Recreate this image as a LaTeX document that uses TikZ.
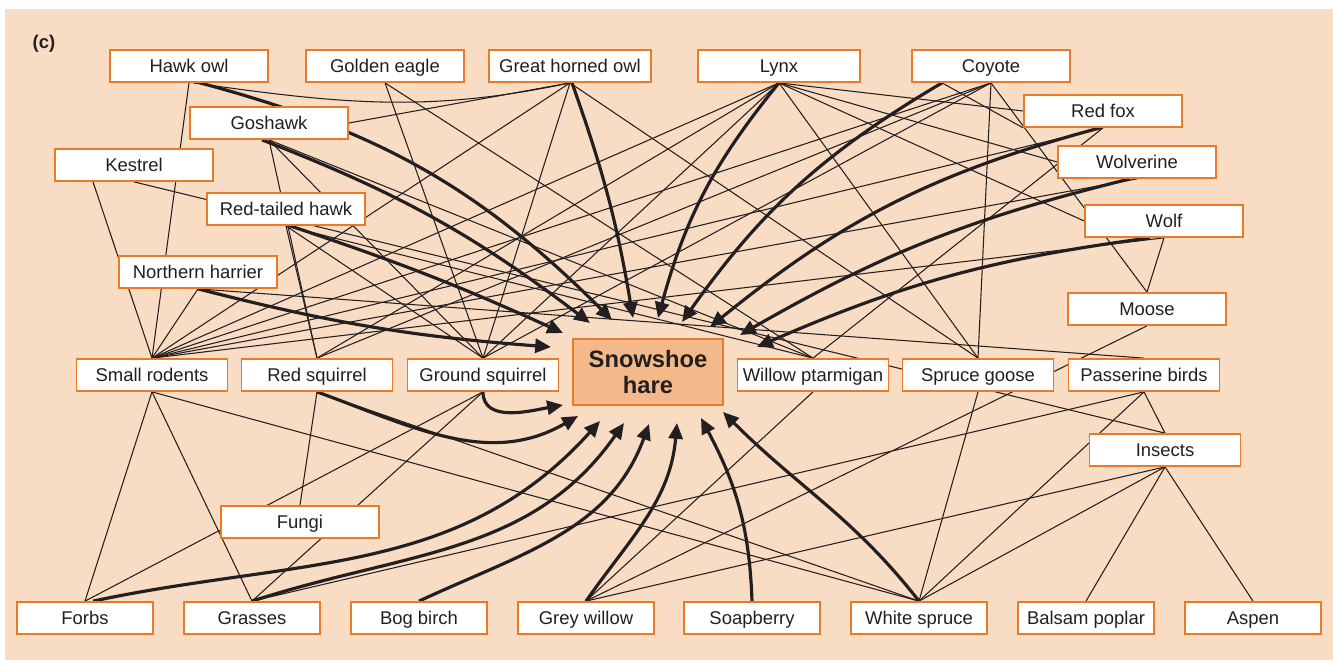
\documentclass[tikz,border=0pt]{standalone}
\usepackage{fontspec}
\setmainfont{Liberation Sans}
\usetikzlibrary{arrows.meta,calc}
\pgfdeclarelayer{background}
\pgfdeclarelayer{links}
\pgfsetlayers{background,links,main}

\begin{document}
\begin{tikzpicture}[x=0.02cm, y=-0.02cm,
    box/.style={draw=boxColour, fill=white, line width=1pt, inner sep=0pt,
        minimum width=3.16cm, minimum height=0.64cm, text=inkColour,
        text height=9.5pt, text depth=2pt,
        font=\fontsize{10.5}{12}\selectfont},
    preybox/.style={box, minimum width=3.02cm},
    plantbox/.style={box, minimum width=2.72cm},
    link/.style={draw=inkColour, line width=0.6pt},
    eat/.style={draw=inkColour, line width=1.8pt, -{Triangle[length=9pt,width=8pt]}}]

    % Define colours
    \definecolor{bgColour}{HTML}{F8DCC3}
    \definecolor{boxColour}{HTML}{E97B28}
    \definecolor{hareColour}{HTML}{F3B98A}
    \definecolor{inkColour}{HTML}{231F20}

    % Page and background
    \useasboundingbox (0,0) rectangle (1333,660);
    \begin{pgfonlayer}{background}
        \fill[bgColour] (5,9) rectangle (1333,660);
    \end{pgfonlayer}
    \node[font=\bfseries\fontsize{10.5}{12}\selectfont, text=inkColour] (panel) at (44,44) {(c)};

    % Predators
    \node[box] (hawkowl) at (189,66) {Hawk owl};
    \node[box] (goldeneagle) at (385,66) {Golden eagle};
    \node[box, minimum width=3.24cm] (greathorned) at (570,66) {Great horned owl};
    \node[box, minimum width=3.24cm] (lynx) at (779,66) {Lynx};
    \node[box] (coyote) at (991,66) {Coyote};
    \node[box] (goshawk) at (269,123) {Goshawk};
    \node[box] (kestrel) at (134,165) {Kestrel};
    \node[box] (redtailed) at (286,209) {Red-tailed hawk};
    \node[box] (harrier) at (198,272) {Northern harrier};
    \node[box] (redfox) at (1103,111) {Red fox};
    \node[box] (wolverine) at (1137,162) {Wolverine};
    \node[box] (wolf) at (1164,221) {Wolf};

    % Herbivores
    \node[box] (moose) at (1147,309) {Moose};
    \node[preybox] (rodents) at (152,375) {Small rodents};
    \node[preybox] (redsquirrel) at (317,375) {Red squirrel};
    \node[preybox] (groundsquirrel) at (483,375) {Ground squirrel};
    \node[box, fill=hareColour, minimum width=3cm, minimum height=1.32cm, align=center,
        text height=, text depth=,
        font=\bfseries\fontsize{13.5}{15}\selectfont] (hare) at (648,372) {Snowshoe\\hare};
    \node[preybox] (ptarmigan) at (813,375) {Willow ptarmigan};
    \node[preybox] (sprucegoose) at (978,375) {Spruce goose};
    \node[preybox] (passerine) at (1144,375) {Passerine birds};
    \node[preybox] (insects) at (1165,450) {Insects};
    \node[box] (fungi) at (300,522) {Fungi};

    % Plants
    \node[plantbox] (forbs) at (85,618) {Forbs};
    \node[plantbox] (grasses) at (252,618) {Grasses};
    \node[plantbox] (bogbirch) at (419,618) {Bog birch};
    \node[plantbox] (greywillow) at (586,618) {Grey willow};
    \node[plantbox] (soapberry) at (752,618) {Soapberry};
    \node[plantbox] (whitespruce) at (919,618) {White spruce};
    \node[plantbox] (balsampoplar) at (1086,618) {Balsam poplar};
    \node[plantbox] (aspen) at (1253,618) {Aspen};

    \begin{pgfonlayer}{links}
    % Thin feeding links
    \foreach \a/\b in {hawkowl/rodents, goldeneagle/groundsquirrel, goldeneagle/ptarmigan,
        greathorned/rodents, greathorned/groundsquirrel, greathorned/sprucegoose,
        goshawk/redsquirrel, goshawk/groundsquirrel, goshawk/ptarmigan,
        redtailed/redsquirrel, redtailed/groundsquirrel, redtailed/ptarmigan,
        harrier/rodents, harrier/passerine, lynx/rodents, lynx/redsquirrel,
        lynx/groundsquirrel, lynx/sprucegoose, coyote/rodents, coyote/redsquirrel,
        coyote/groundsquirrel, coyote/sprucegoose, coyote/moose, redfox/rodents,
        redfox/ptarmigan, wolverine/rodents, wolf/rodents, wolf/moose, passerine/insects,
        rodents/forbs, rodents/grasses, rodents/whitespruce, redsquirrel/fungi,
        redsquirrel/whitespruce, groundsquirrel/forbs, groundsquirrel/grasses,
        ptarmigan/greywillow, sprucegoose/whitespruce, passerine/grasses,
        passerine/whitespruce, insects/greywillow, insects/whitespruce,
        insects/balsampoplar, insects/aspen, moose/greywillow}
        \draw[link] (\a.south) -- (\b.north);
    \draw[link] ($(kestrel.south)+(-41,0)$) -- (rodents.north);
    \draw[link] (kestrel.south) -- (insects.north);
    \draw[link] (lynx.south) -- (redfox.west);
    \draw[link] (lynx.south) -- (wolverine.west);
    \draw[link] (lynx.south) -- (wolf.west);
    \draw[link] ($(coyote.south)+(-49,0)$) -- (redfox.south west);
    \draw[link] (greathorned.south) -- (goshawk.east);
    \draw[link] ($(hawkowl.south)+(4,0)$) to[out=-8, in=192] (greathorned.south);

    % Links to the snowshoe hare
    \draw[eat] (harrier.south) to[bend right=5] (551,347);
    \draw[eat] ($(redtailed.south)+(4,0)$) to[bend left=3] (563,333);
    \draw[eat] ($(goshawk.south)+(-7,0)$) to[bend left=8] (590,323);
    \draw[eat] ($(hawkowl.south)+(11,0)$) to[bend left=15] (612,320);
    \draw[eat] ($(greathorned.south)+(2,0)$) to[bend left=5] (633,318);
    \draw[eat] (lynx.south) to[bend right=12] (658,318);
    \draw[eat] ($(coyote.south)+(-49,0)$) to[bend right=12] (682,322);
    \draw[eat] ($(redfox.south)+(-3,0)$) to[bend right=12] (710,327);
    \draw[eat] ($(wolverine.south)+(-7,0)$) to[bend right=8] (740,335);
    \draw[eat] ($(wolf.south)+(-14,0)$) to[bend right=8] (757,347);
    \draw[eat] (groundsquirrel.south) to[out=-90, in=190] (563,405);
    \draw[eat] (redsquirrel.south) to[out=-20, in=210] (578,416);
    \draw[eat] ($(forbs.north)+(8,0)$) to[out=12, in=228] (600,421);
    \draw[eat] (grasses.north) to[out=18, in=235] (624,423);
    \draw[eat] (bogbirch.north) to[out=25, in=250] (649,424);
    \draw[eat] (greywillow.north) to[out=55, in=265] (677,423);
    \draw[eat] (soapberry.north) to[out=92, in=-62] (701,418);
    \draw[eat] (whitespruce.north) to[out=128, in=-45] (723,412);
    \end{pgfonlayer}

\end{tikzpicture}
\end{document}
